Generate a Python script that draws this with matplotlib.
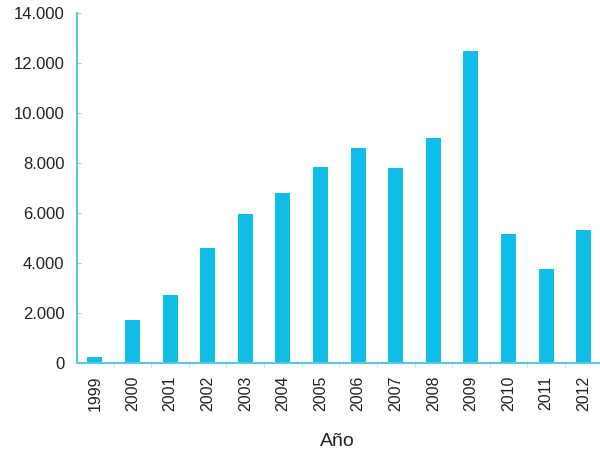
import matplotlib

matplotlib.use("Agg")
import matplotlib.pyplot as plt
from matplotlib.ticker import FuncFormatter

years = ["1999", "2000", "2001", "2002", "2003", "2004", "2005",
         "2006", "2007", "2008", "2009", "2010", "2011", "2012"]
values = [250, 1700, 2700, 4600, 5950, 6800, 7850,
          8600, 7800, 9000, 12500, 5150, 3750, 5300]

plt.rcParams["font.family"] = ["Liberation Sans", "DejaVu Sans"]

bar_color = "#10bde9"
axis_color = "#5cc8e0"
text_color = "#222222"

fig = plt.figure(figsize=(6.0, 4.53), dpi=100)
ax = fig.add_axes([0.128, 0.199, 0.870, 0.772])

x = list(range(len(years)))
ax.bar(x, values, width=0.4, color=bar_color)

ax.set_xlim(-0.48, 13.4)
ax.set_ylim(0, 14000)
ax.set_yticks(range(0, 14001, 2000))
ax.yaxis.set_major_formatter(FuncFormatter(lambda v, _: f"{int(v):,}".replace(",", ".")))

ax.set_xticks(x)
ax.set_xticklabels(years, rotation=90, fontsize=11.5, color=text_color)
ax.tick_params(axis="x", length=0, pad=9)
# faint boundary ticks between bars
ax.set_xticks([i + 0.5 for i in x[:-1]], minor=True)
ax.tick_params(axis="x", which="minor", length=3, color="#c4dde6", direction="out")
ax.tick_params(axis="y", length=3, color="#b0ccd6", direction="in", labelsize=12,
               labelcolor=text_color, pad=9)

for side in ["top", "right"]:
    ax.spines[side].set_visible(False)
for side in ["left", "bottom"]:
    ax.spines[side].set_color(axis_color)
    ax.spines[side].set_linewidth(1.5)

ax.set_xlabel("Año", fontsize=14, color=text_color, labelpad=16)

fig.savefig("out.png", dpi=100)
